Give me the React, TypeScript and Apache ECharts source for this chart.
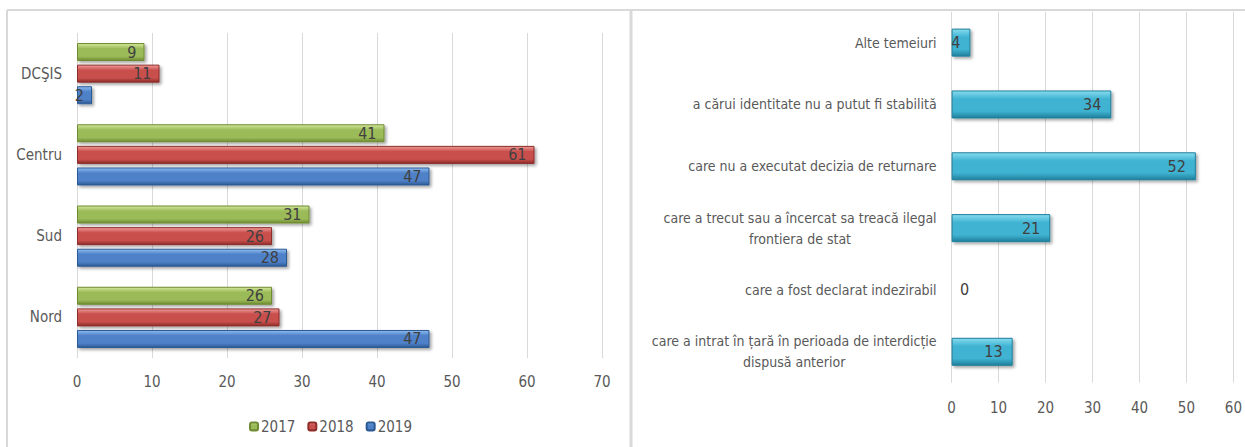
import React, { useEffect, useRef } from "react";
import * as echarts from "echarts";

const leftCategories = ["Nord", "Sud", "Centru", "DCŞIS"];
const years = ["2017", "2018", "2019"];
const values2017 = [26, 31, 41, 9];
const values2018 = [27, 26, 61, 11];
const values2019 = [47, 28, 47, 2];
const leftTicksMax = 70;

const rightCategories = [
  "care a intrat în țară în perioada de interdicție\ndispusă anterior",
  "care a fost declarat indezirabil",
  "care a trecut sau a încercat sa treacă ilegal\nfrontiera de stat",
  "care nu a executat decizia de returnare",
  "a cărui identitate nu a putut fi stabilită",
  "Alte temeiuri",
];
const rightValues = [13, 0, 21, 52, 34, 4];
const rightTicksMax = 60;

const FONT = "'Liberation Sans Narrow', 'DejaVu Sans Condensed', 'Open Sans', sans-serif";
const TEXT = "#595959";
const LABEL = "#404040";
const GRID = "#d9d9d9";

const grad = (light: string, mid: string, dark: string) =>
  new echarts.graphic.LinearGradient(0, 0, 0, 1, [
    { offset: 0, color: light },
    { offset: 0.3, color: mid },
    { offset: 0.75, color: mid },
    { offset: 1, color: dark },
  ]);

const palette = [
  ["#d3e89a", "#9bbb59", "#6f8c33"],
  ["#ef9a98", "#c9504d", "#8e2d2a"],
  ["#8dbdf0", "#4f81c8", "#2b5a95"],
];
const teal = ["#86dcef", "#3fb3d2", "#1f7f9b"];

const leftSeriesData = [values2017, values2018, values2019];

export default function App() {
  const ref = useRef<HTMLDivElement>(null);
  useEffect(() => {
    document.body.style.margin = "0";
    if (!ref.current) return;
    const chart = echarts.init(ref.current, undefined, { renderer: "svg" });
    const shadow = {
      shadowColor: "rgba(0,0,0,0.35)",
      shadowBlur: 3,
      shadowOffsetX: 2,
      shadowOffsetY: 2,
    };
    const leftSeries = years.map((y, i) => ({
      name: y,
      type: "bar",
      xAxisIndex: 0,
      yAxisIndex: 0,
      barWidth: 18,
      barGap: "20%",
      data: leftSeriesData[i],
      itemStyle: {
        color: grad(palette[i][0], palette[i][1], palette[i][2]),
        borderColor: palette[i][2],
        borderWidth: 1,
        ...shadow,
      },
      label: {
        show: true,
        position: "insideRight",
        distance: 8,
        color: LABEL,
        fontSize: 16,
        fontFamily: FONT,
      },
    }));
    const option: any = {
      animation: false,
      textStyle: { fontFamily: FONT },
      graphic: [
        { type: "line", shape: { x1: 7, y1: 10, x2: 1245, y2: 10 }, style: { stroke: GRID, lineWidth: 2 } },
        { type: "line", shape: { x1: 7, y1: 10, x2: 7, y2: 447 }, style: { stroke: GRID, lineWidth: 2 } },
        { type: "line", shape: { x1: 631, y1: 10, x2: 631, y2: 447 }, style: { stroke: GRID, lineWidth: 3 } },
      ],
      legend: {
        data: years,
        left: 244,
        top: 414,
        itemWidth: 8,
        itemHeight: 8,
        itemGap: 12,
        textStyle: { color: TEXT, fontSize: 15, fontFamily: FONT, padding: [0, 0, 0, -2] },
      },
      grid: [
        { left: 77, top: 33, width: 525, height: 325 },
        { left: 951.6, top: 11.7, width: 285, height: 371 },
      ],
      xAxis: [
        {
          gridIndex: 0,
          type: "value",
          min: 0,
          max: leftTicksMax,
          interval: 10,
          axisLine: { show: false },
          axisTick: { show: false },
          splitLine: { lineStyle: { color: GRID } },
          axisLabel: { color: TEXT, fontSize: 15, fontFamily: FONT, margin: 16 },
        },
        {
          gridIndex: 1,
          type: "value",
          min: 0,
          max: rightTicksMax,
          interval: 10,
          axisLine: { show: false },
          axisTick: { show: false },
          splitLine: { lineStyle: { color: GRID } },
          axisLabel: { color: TEXT, fontSize: 15, fontFamily: FONT, margin: 18 },
        },
      ],
      yAxis: [
        {
          gridIndex: 0,
          type: "category",
          data: leftCategories,
          axisLine: { show: false },
          axisTick: { show: false },
          axisLabel: { color: TEXT, fontSize: 15, fontFamily: FONT, margin: 15 },
        },
        {
          gridIndex: 1,
          type: "category",
          data: rightCategories,
          axisLine: { show: false },
          axisTick: { show: false },
          axisLabel: {
            margin: 15,
            formatter: (v: string) =>
              v
                .split("\n")
                .map((s) => "{c|" + s + "}")
                .join("\n"),
            rich: {
              c: { align: "center", color: TEXT, fontSize: 14, fontFamily: FONT, lineHeight: 21 },
            },
          },
        },
      ],
      series: [
        ...leftSeries,
        {
          name: "right",
          type: "bar",
          xAxisIndex: 1,
          yAxisIndex: 1,
          barWidth: 28,
          data: rightValues.map((v) =>
            v === 0 ? { value: v, label: { position: "right", distance: 8 } } : v
          ),
          itemStyle: {
            color: grad(teal[0], teal[1], teal[2]),
            borderColor: teal[2],
            borderWidth: 1,
            ...shadow,
          },
          label: {
            show: true,
            position: "insideRight",
            distance: 10,
            color: LABEL,
            fontSize: 16,
            fontFamily: FONT,
          },
        },
      ],
    };
    chart.setOption(option);
    return () => chart.dispose();
  }, []);
  return <div ref={ref} style={{ width: 1245, height: 447 }} />;
}
